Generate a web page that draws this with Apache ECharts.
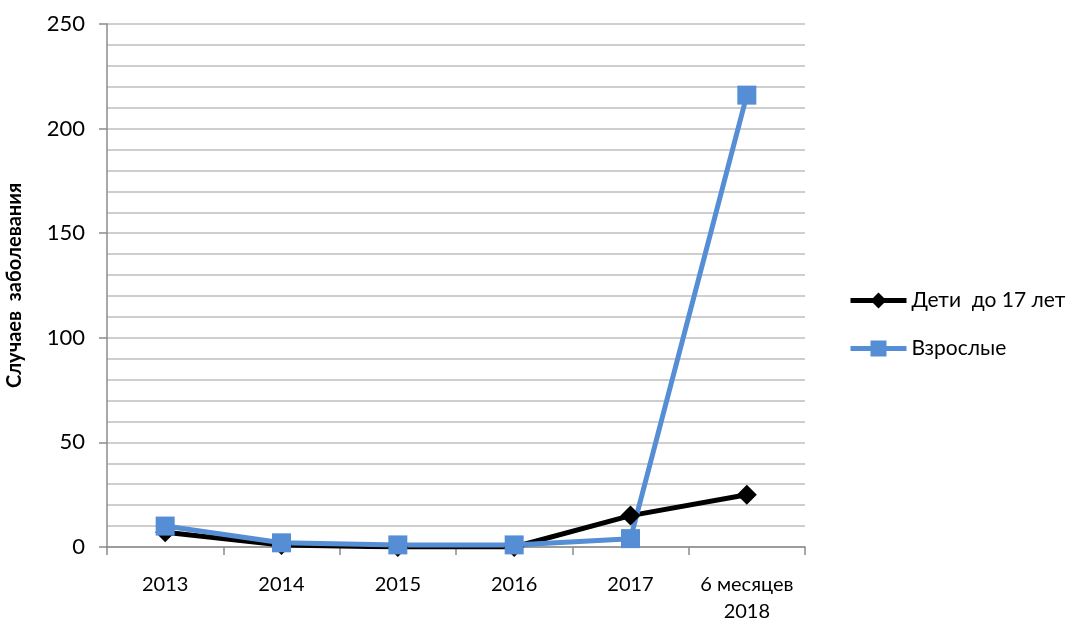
<!DOCTYPE html>
<html>
  <head>
    <meta charset="utf-8">
    <title></title>
    <style>
    html, body {margin:0; padding:0; background:#fff}
    #chart {width:1074px; height:626px}
    </style>
    <script src="https://cdn.jsdelivr.net/npm/echarts@6/dist/echarts.min.js"></script>
  </head>
  <body>
    <div id="chart"></div>
    <script>
    const categories=['2013', '2014', '2015', '2016', '2017', '6 месяцев\n2018'];
    const kids=[7, 1, 0, 0, 15, 25];
    const adults=[10, 2, 1, 1, 4, 216];
    const yTicks={min: 0, max: 250, step: 50};

    const font='Lato, "Open Sans", sans-serif';
    const gridColor='#bfbfbf';
    const axisColor='#8c8c8c';

    let chart=echarts.init(document.getElementById('chart'));

    chart.setOption({
      animation: false,
      textStyle: {fontFamily: font},
      grid: {left: 107, right: 269, top: 24, bottom: 79, outerBoundsMode: 'none'},
      legend: {
        orient: 'vertical',
        left: 843,
        top: 285,
        itemWidth: 56,
        itemHeight: 20,
        itemGap: 27,
        itemTextGap: 7,
        lineStyle: {width: 5},
        textStyle: {fontSize: 21, color: '#000', fontFamily: font},
        data: ['Дети  до 17 лет', 'Взрослые']
      },
      xAxis: {
        type: 'category',
        data: categories,
        boundaryGap: true,
        axisLine: {lineStyle: {color: axisColor, width: 1.5}},
        axisTick: {show: true, length: 8, lineStyle: {color: axisColor, width: 1.5}},
        axisLabel: {fontSize: 20, color: '#000', margin: 24, lineHeight: 27, interval: 0}
      },
      yAxis: {
        type: 'value',
        min: yTicks.min,
        max: yTicks.max,
        interval: yTicks.step,
        name: 'Случаев  заболевания',
        nameLocation: 'middle',
        nameGap: 82,
        nameTextStyle: {fontSize: 20, fontWeight: 'bold', color: '#000'},
        axisLine: {show: true, lineStyle: {color: axisColor, width: 1.5}},
        axisTick: {show: true, length: 8, lineStyle: {color: axisColor, width: 1.5}},
        axisLabel: {fontSize: 22, color: '#000', margin: 22},
        splitLine: {lineStyle: {color: gridColor, width: 1.5}},
        minorTick: {show: false, splitNumber: 5},
        minorSplitLine: {show: true, lineStyle: {color: gridColor, width: 1.5}}
      },
      series: [
        {
          name: 'Дети  до 17 лет',
          type: 'line',
          data: kids,
          symbol: 'diamond',
          symbolSize: 20,
          itemStyle: {color: '#000'},
          lineStyle: {color: '#000', width: 5}
        },
        {
          name: 'Взрослые',
          type: 'line',
          data: adults,
          symbol: 'rect',
          symbolSize: 19,
          itemStyle: {color: '#558ed5'},
          lineStyle: {color: '#558ed5', width: 5}
        }
      ]
    });
    </script>
  </body>
</html>
